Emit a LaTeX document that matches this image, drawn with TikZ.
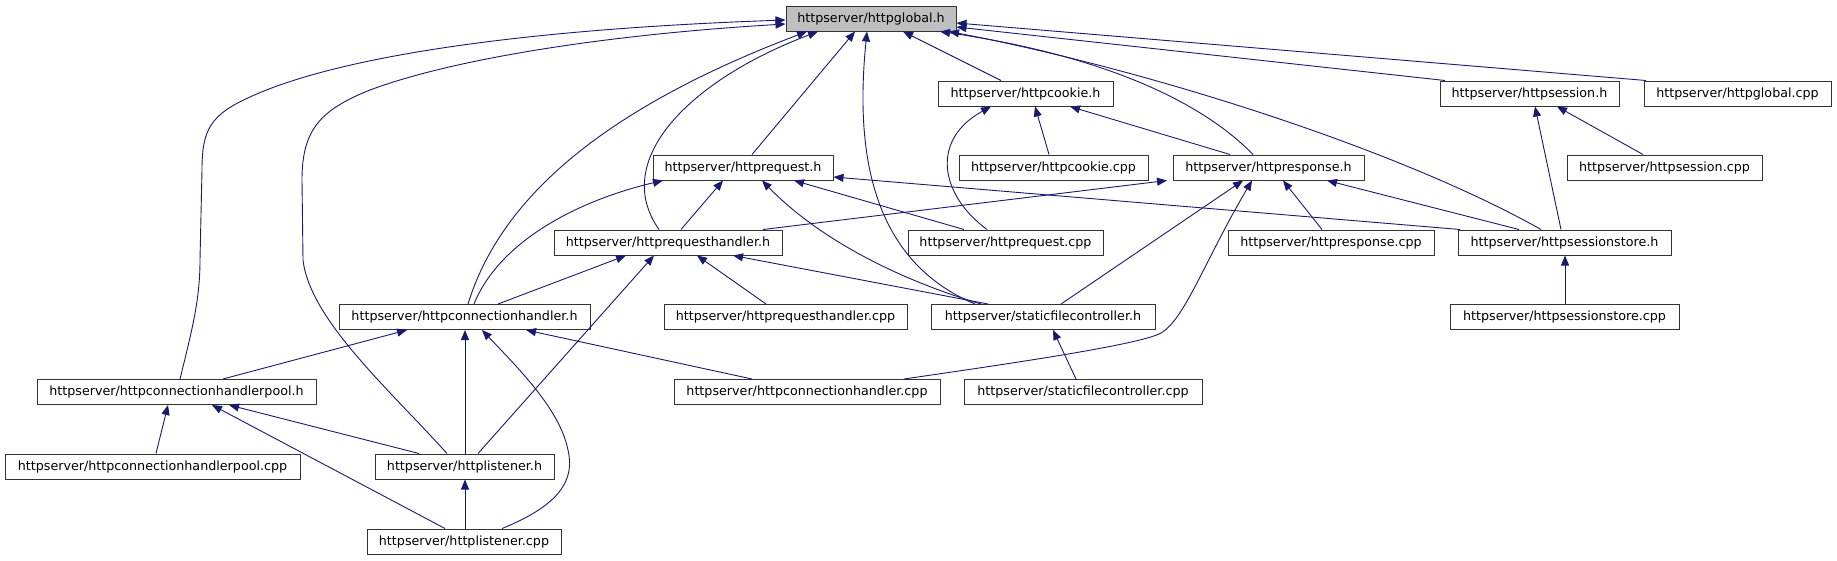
\documentclass[tikz,border=0pt]{standalone}
\usepackage{fontspec}
\setmainfont{DejaVu Sans}
\usetikzlibrary{arrows.meta}
\definecolor{edgeblue}{HTML}{191970}
\definecolor{boxgray}{HTML}{BFBFBF}
\definecolor{boxline}{HTML}{333333}
\begin{document}
\begin{tikzpicture}[x=1pt,y=-1pt,
  file/.style={draw=boxline, line width=1pt, fill=white, minimum height=25pt,
    inner sep=0pt, font=\fontsize{12.7}{14}\selectfont, text=black},
  edge/.style={draw=edgeblue, line width=0.9pt, -{Triangle[length=10pt,width=8pt]}},
]
\useasboundingbox (0,0) rectangle (1837,560);
% nodes
\node[file, fill=boxgray, minimum width=170pt] (glob) at (871,18.5) {httpserver/httpglobal.h};
\node[file, minimum width=175pt] (cookieh) at (1025.5,93.5) {httpserver/httpcookie.h};
\node[file, minimum width=179pt] (sessionh) at (1529.5,93.5) {httpserver/httpsession.h};
\node[file, minimum width=187pt] (globcpp) at (1737.5,93.5) {httpserver/httpglobal.cpp};
\node[file, minimum width=180pt] (reqh) at (743,167.5) {httpserver/httprequest.h};
\node[file, minimum width=189pt] (cookiecpp) at (1053.5,167.5) {httpserver/httpcookie.cpp};
\node[file, minimum width=191pt] (resph) at (1268.5,167.5) {httpserver/httpresponse.h};
\node[file, minimum width=195pt] (sessioncpp) at (1664.5,167.5) {httpserver/httpsession.cpp};
\node[file, minimum width=228pt] (reqhh) at (668,242.5) {httpserver/httprequesthandler.h};
\node[file, minimum width=195pt] (reqcpp) at (1005.5,242.5) {httpserver/httprequest.cpp};
\node[file, minimum width=206pt] (respcpp) at (1331,242.5) {httpserver/httpresponse.cpp};
\node[file, minimum width=213pt] (sstoreh) at (1564.5,242.5) {httpserver/httpsessionstore.h};
\node[file, minimum width=251pt] (connhh) at (464.5,317) {httpserver/httpconnectionhandler.h};
\node[file, minimum width=243pt] (reqhcpp) at (785.5,317) {httpserver/httprequesthandler.cpp};
\node[file, minimum width=224pt] (sfch) at (1043,317) {httpserver/staticfilecontroller.h};
\node[file, minimum width=229pt] (sstorecpp) at (1564.5,317) {httpserver/httpsessionstore.cpp};
\node[file, minimum width=279pt] (poolh) at (176.5,392) {httpserver/httpconnectionhandlerpool.h};
\node[file, minimum width=266pt] (connhcpp) at (807,392) {httpserver/httpconnectionhandler.cpp};
\node[file, minimum width=238pt] (sfccpp) at (1083,392) {httpserver/staticfilecontroller.cpp};
\node[file, minimum width=295pt] (poolcpp) at (152.5,466.5) {httpserver/httpconnectionhandlerpool.cpp};
\node[file, minimum width=179pt] (listenh) at (464.5,466.5) {httpserver/httplistener.h};
\node[file, minimum width=194pt] (listencpp) at (464,541.5) {httpserver/httplistener.cpp};
% edges to httpglobal.h
\draw[edge] (180,0 |- poolh.north) .. controls (192,330) and (200,300) .. (200,260) -- (202,170) .. controls (202,130) and (210,115) .. (250,97) .. controls (330,60) and (500,30) .. (glob.west |- 0,20);
\draw[edge] (447,0 |- listenh.north) .. controls (390,390) and (310,320) .. (303,260) -- (302,180) .. controls (302,130) and (320,110) .. (370,90) .. controls (450,60) and (600,35) .. (glob.west |- 0,24);
\draw[edge] (468,0 |- connhh.north) .. controls (500,200) and (600,110) .. (807,0 |- glob.south);
\draw[edge] (659,0 |- reqhh.north) .. controls (610,160) and (690,80) .. (818,0 |- glob.south);
\draw[edge] (752,0 |- reqh.north) -- (855,0 |- glob.south);
\draw[edge] (975,0 |- sfch.north) .. controls (870,260) and (855,150) .. (867,0 |- glob.south);
\draw[edge] (1001,0 |- cookieh.north) -- (903,0 |- glob.south);
\draw[edge] (1253,0 |- resph.north) .. controls (1200,100) and (1100,55) .. (940,0 |- glob.south);
\draw[edge] (1541,0 |- sstoreh.north) .. controls (1400,150) and (1150,70) .. (949,0 |- glob.south);
\draw[edge] (1445,0 |- sessionh.north) -- (glob.east |- 0,27);
\draw[edge] (1646,0 |- globcpp.north) -- (glob.east |- 0,23);
% edges to httpcookie.h
\draw[edge] (987,0 |- reqcpp.north) .. controls (940,195) and (930,140) .. (991,0 |- cookieh.south);
\draw[edge] (1049,0 |- cookiecpp.north) -- (1035,0 |- cookieh.south);
\draw[edge] (1230,0 |- resph.north) -- (1070,0 |- cookieh.south);
% edges to httpsession.h
\draw[edge] (1561,0 |- sstoreh.north) -- (1535,0 |- sessionh.south);
\draw[edge] (1643,0 |- sessioncpp.north) -- (1557,0 |- sessionh.south);
% edges to httprequest.h
\draw[edge] (474,0 |- connhh.north) .. controls (500,240) and (580,200) .. (663,0 |- reqh.south);
\draw[edge] (681,0 |- reqhh.north) -- (723,0 |- reqh.south);
\draw[edge] (981,0 |- sfch.north) .. controls (900,280) and (820,240) .. (762,0 |- reqh.south);
\draw[edge] (964,0 |- reqcpp.north) -- (794,0 |- reqh.south);
\draw[edge] (1460,0 |- sstoreh.north) -- (reqh.east |- 0,177);
% edges to httpresponse.h
\draw[edge] (763,0 |- reqhh.north) -- (1167,0 |- resph.south);
\draw[edge] (1061,0 |- sfch.north) -- (1243,0 |- resph.south);
\draw[edge] (904,0 |- connhcpp.north) .. controls (1000,365) and (1140,345) .. (1161,333) .. controls (1185,319) and (1205,260) .. (1252,0 |- resph.south);
\draw[edge] (1322,0 |- respcpp.north) -- (1283,0 |- resph.south);
\draw[edge] (1519,0 |- sstoreh.north) -- (1327,0 |- resph.south);
% httpsessionstore.h
\draw[edge] (1565,0 |- sstorecpp.north) -- (1565,0 |- sstoreh.south);
% edges to httprequesthandler.h
\draw[edge] (498,0 |- connhh.north) -- (626,0 |- reqhh.south);
\draw[edge] (478,0 |- listenh.north) -- (654,0 |- reqhh.south);
\draw[edge] (766,0 |- reqhcpp.north) -- (697,0 |- reqhh.south);
\draw[edge] (988,0 |- sfch.north) -- (733,0 |- reqhh.south);
% staticfilecontroller.h
\draw[edge] (1076,0 |- sfccpp.north) -- (1053,0 |- sfch.south);
% edges to httpconnectionhandler.h
\draw[edge] (223,0 |- poolh.north) -- (407,0 |- connhh.south);
\draw[edge] (465,0 |- listenh.north) -- (465,0 |- connhh.south);
\draw[edge] (502,0 |- listencpp.north) .. controls (560,505) and (575,480) .. (568,450) .. controls (560,410) and (520,370) .. (482,0 |- connhh.south);
\draw[edge] (752,0 |- connhcpp.north) -- (526,0 |- connhh.south);
% edges to httpconnectionhandlerpool.h
\draw[edge] (156,0 |- poolcpp.north) -- (168,0 |- poolh.south);
\draw[edge] (419,0 |- listenh.north) -- (229,0 |- poolh.south);
\draw[edge] (445,0 |- listencpp.north) -- (212,0 |- poolh.south);
% httplistener.h
\draw[edge] (465,0 |- listencpp.north) -- (465,0 |- listenh.south);
\end{tikzpicture}
\end{document}
